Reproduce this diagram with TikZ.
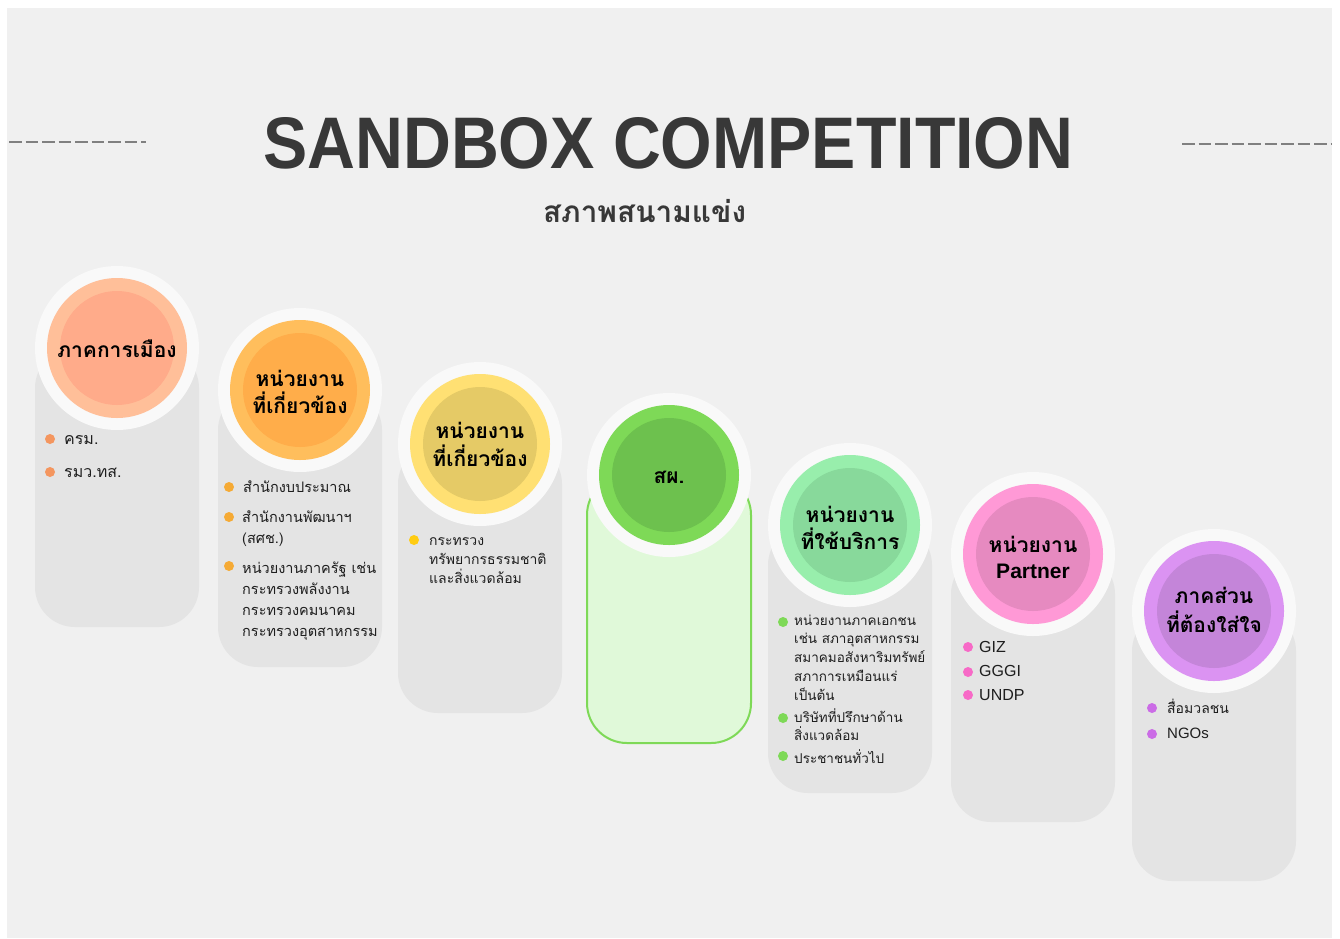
\documentclass[tikz,border=0pt]{standalone}
\usepackage{fontspec}
\setmainfont{Liberation Sans}
\newfontfamily\thai[Script=Thai]{Loma}
\newcommand\tf[1]{\thai\fontsize{#1}{#1}\selectfont}
\newcommand\lf[1]{\fontsize{#1}{#1}\selectfont}
\definecolor{bg}{HTML}{F0F0F0}
\definecolor{ringc}{HTML}{F9F9F9}
\definecolor{boxgray}{HTML}{E4E4E4}
\definecolor{titlec}{HTML}{383838}
\definecolor{dashc}{HTML}{808080}
\definecolor{txtc}{HTML}{1E1E1E}
\definecolor{cAo}{HTML}{FFBF99}\definecolor{cAi}{HTML}{FFAB8A}\definecolor{cAd}{HTML}{F4965F}
\definecolor{cBo}{HTML}{FFBE5C}\definecolor{cBi}{HTML}{FFAD4A}\definecolor{cBd}{HTML}{F5AA35}
\definecolor{cCo}{HTML}{FFE073}\definecolor{cCi}{HTML}{E5CA66}\definecolor{cCd}{HTML}{FFCC12}
\definecolor{cDo}{HTML}{7ED957}\definecolor{cDi}{HTML}{6DC14E}\definecolor{cDbox}{HTML}{E0F9D9}
\definecolor{cEo}{HTML}{98EEAC}\definecolor{cEi}{HTML}{88D99B}\definecolor{cEd}{HTML}{7ED957}
\definecolor{cFo}{HTML}{FF99D6}\definecolor{cFi}{HTML}{E68AC0}\definecolor{cFd}{HTML}{F76AC7}
\definecolor{cGo}{HTML}{DB93F2}\definecolor{cGi}{HTML}{C485D9}\definecolor{cGd}{HTML}{CB6CE6}
\tikzset{
  graybox/.style={fill=boxgray},
  greenbox/.style={fill=cDbox, draw=cDo, line width=2pt},
  lab/.style={anchor=base, inner sep=0pt, text=black, font=\tf{21}\bfseries},
  latlab/.style={anchor=base, inner sep=0pt, text=black, font=\lf{21}\bfseries},
  txt/.style={anchor=base west, inner sep=0pt, text=txtc},
  dashline/.style={draw=dashc, line width=2pt, dash pattern=on 12.5pt off 4pt},
}
% #1 name, #2 cx, #3 cy, #4 box bottom, #5 ring colour, #6 inner colour, #7 box style
\newcommand\stage[7]{%
  \path[#7, rounded corners=40pt] (#2-82,#3) rectangle (#2+82,#4);
  \fill[ringc] (#2,#3) circle[radius=82pt];
  \fill[#5] (#2,#3) circle[radius=70pt];
  \node[circle, fill=#6, minimum size=114pt, inner sep=0pt] (#1) at (#2,#3) {};
}
% #1 name, #2 font, #3 x, #4 first baseline, #5 spacing, #6 list of lines
\newcommand\tlines[6]{%
  \foreach \t [count=\k] in {#6} {\node[txt, font=#2] (#1-\k) at (#3, {#4+(\k-1)*#5}) {\t};}
}
\begin{document}
\begin{tikzpicture}[x=1pt,y=-1pt]
\useasboundingbox (0,0) rectangle (1340,938);
\fill[white] (0,0) rectangle (1340,938);
\fill[bg] (7,8) rectangle (1332,938);

% title
\draw[dashline] (9,142) -- (146,142);
\draw[dashline] (1182,144) -- (1332,144);
\node[anchor=base west, inner sep=0pt, text=titlec] (title) at (263,168)
  {\resizebox{810pt}{51pt}{\bfseries SANDBOX COMPETITION}};
\node[anchor=base, inner sep=0pt, text=titlec] (subtitle) at (644.5,222)
  {\resizebox{203pt}{!}{\tf{28}\bfseries สภาพสนามแข่ง}};

% stages
\stage{s1}{117}{348}{627}{cAo}{cAi}{graybox}
\stage{s2}{300}{390}{667}{cBo}{cBi}{graybox}
\stage{s3}{480}{444}{713}{cCo}{cCi}{graybox}
\stage{s4}{669}{475}{743}{cDo}{cDi}{greenbox}
\stage{s5}{850}{525}{793}{cEo}{cEi}{graybox}
\stage{s6}{1033}{554}{822}{cFo}{cFi}{graybox}
\stage{s7}{1214}{611}{881}{cGo}{cGi}{graybox}

% labels
\node[lab] (l1) at (117,357) {ภาคการเมือง};
\node[lab] (l2a) at (300,386) {หน่วยงาน};
\node[lab] (l2b) at (300,413) {ที่เกี่ยวข้อง};
\node[lab] (l3a) at (480,438) {หน่วยงาน};
\node[lab] (l3b) at (480,466) {ที่เกี่ยวข้อง};
\node[lab] (l4) at (669,483) {สผ.};
\node[lab] (l5a) at (850,522) {หน่วยงาน};
\node[lab] (l5b) at (850,549) {ที่ใช้บริการ};
\node[lab] (l6a) at (1033,552) {หน่วยงาน};
\node[latlab] (l6b) at (1033,578) {Partner};
\node[lab] (l7a) at (1214,603) {ภาคส่วน};
\node[lab] (l7b) at (1214,632) {ที่ต้องใส่ใจ};

% column 1
\fill[cAd] (50,439) circle[radius=5pt];
\fill[cAd] (50,472) circle[radius=5pt];
\tlines{a1}{\tf{16}}{64}{444}{20}{ครม.}
\tlines{a2}{\tf{16}}{64}{477}{20}{รมว.ทส.}

% column 2
\fill[cBd] (229,487) circle[radius=5pt];
\fill[cBd] (229,517) circle[radius=5pt];
\fill[cBd] (229,566) circle[radius=5pt];
\tlines{b1}{\tf{14.5}}{243}{492}{21.3}{สำนักงบประมาณ}
\tlines{b2}{\tf{14.5}}{242}{522}{21.3}{สำนักงานพัฒนาฯ,{(สศช.)}}
\tlines{b3}{\tf{14.5}}{242}{573}{21.3}{หน่วยงานภาครัฐ เช่น,กระทรวงพลังงาน,กระทรวงคมนาคม,กระทรวงอุตสาหกรรม}

% column 3
\fill[cCd] (414,540) circle[radius=5pt];
\tlines{c1}{\tf{14}}{429}{545}{19}{กระทรวง,ทรัพยากรธรรมชาติ,และสิ่งแวดล้อม}

% column 5
\fill[cEd] (783,622) circle[radius=5pt];
\fill[cEd] (783,718) circle[radius=5pt];
\fill[cEd] (783,756) circle[radius=5pt];
\tlines{e1}{\tf{13.5}}{794}{625}{18.8}{หน่วยงานภาคเอกชน,เช่น สภาอุตสาหกรรม,สมาคมอสังหาริมทรัพย์,สภาการเหมือนแร่,เป็นต้น}
\tlines{e2}{\tf{13.5}}{794}{722}{18.5}{บริษัทที่ปรึกษาด้าน,สิ่งแวดล้อม}
\tlines{e3}{\tf{13.5}}{794}{763}{18.5}{ประชาชนทั่วไป}

% column 6
\fill[cFd] (968,647) circle[radius=5pt];
\fill[cFd] (968,672) circle[radius=5pt];
\fill[cFd] (968,695) circle[radius=5pt];
\tlines{f1}{\lf{16}}{979}{652}{24}{GIZ,GGGI,UNDP}

% column 7
\fill[cGd] (1152,708) circle[radius=5pt];
\fill[cGd] (1152,734) circle[radius=5pt];
\tlines{g1}{\tf{14}}{1167}{713}{25}{สื่อมวลชน}
\tlines{g2}{\lf{15}}{1167}{738}{25}{NGOs}
\end{tikzpicture}
\end{document}
